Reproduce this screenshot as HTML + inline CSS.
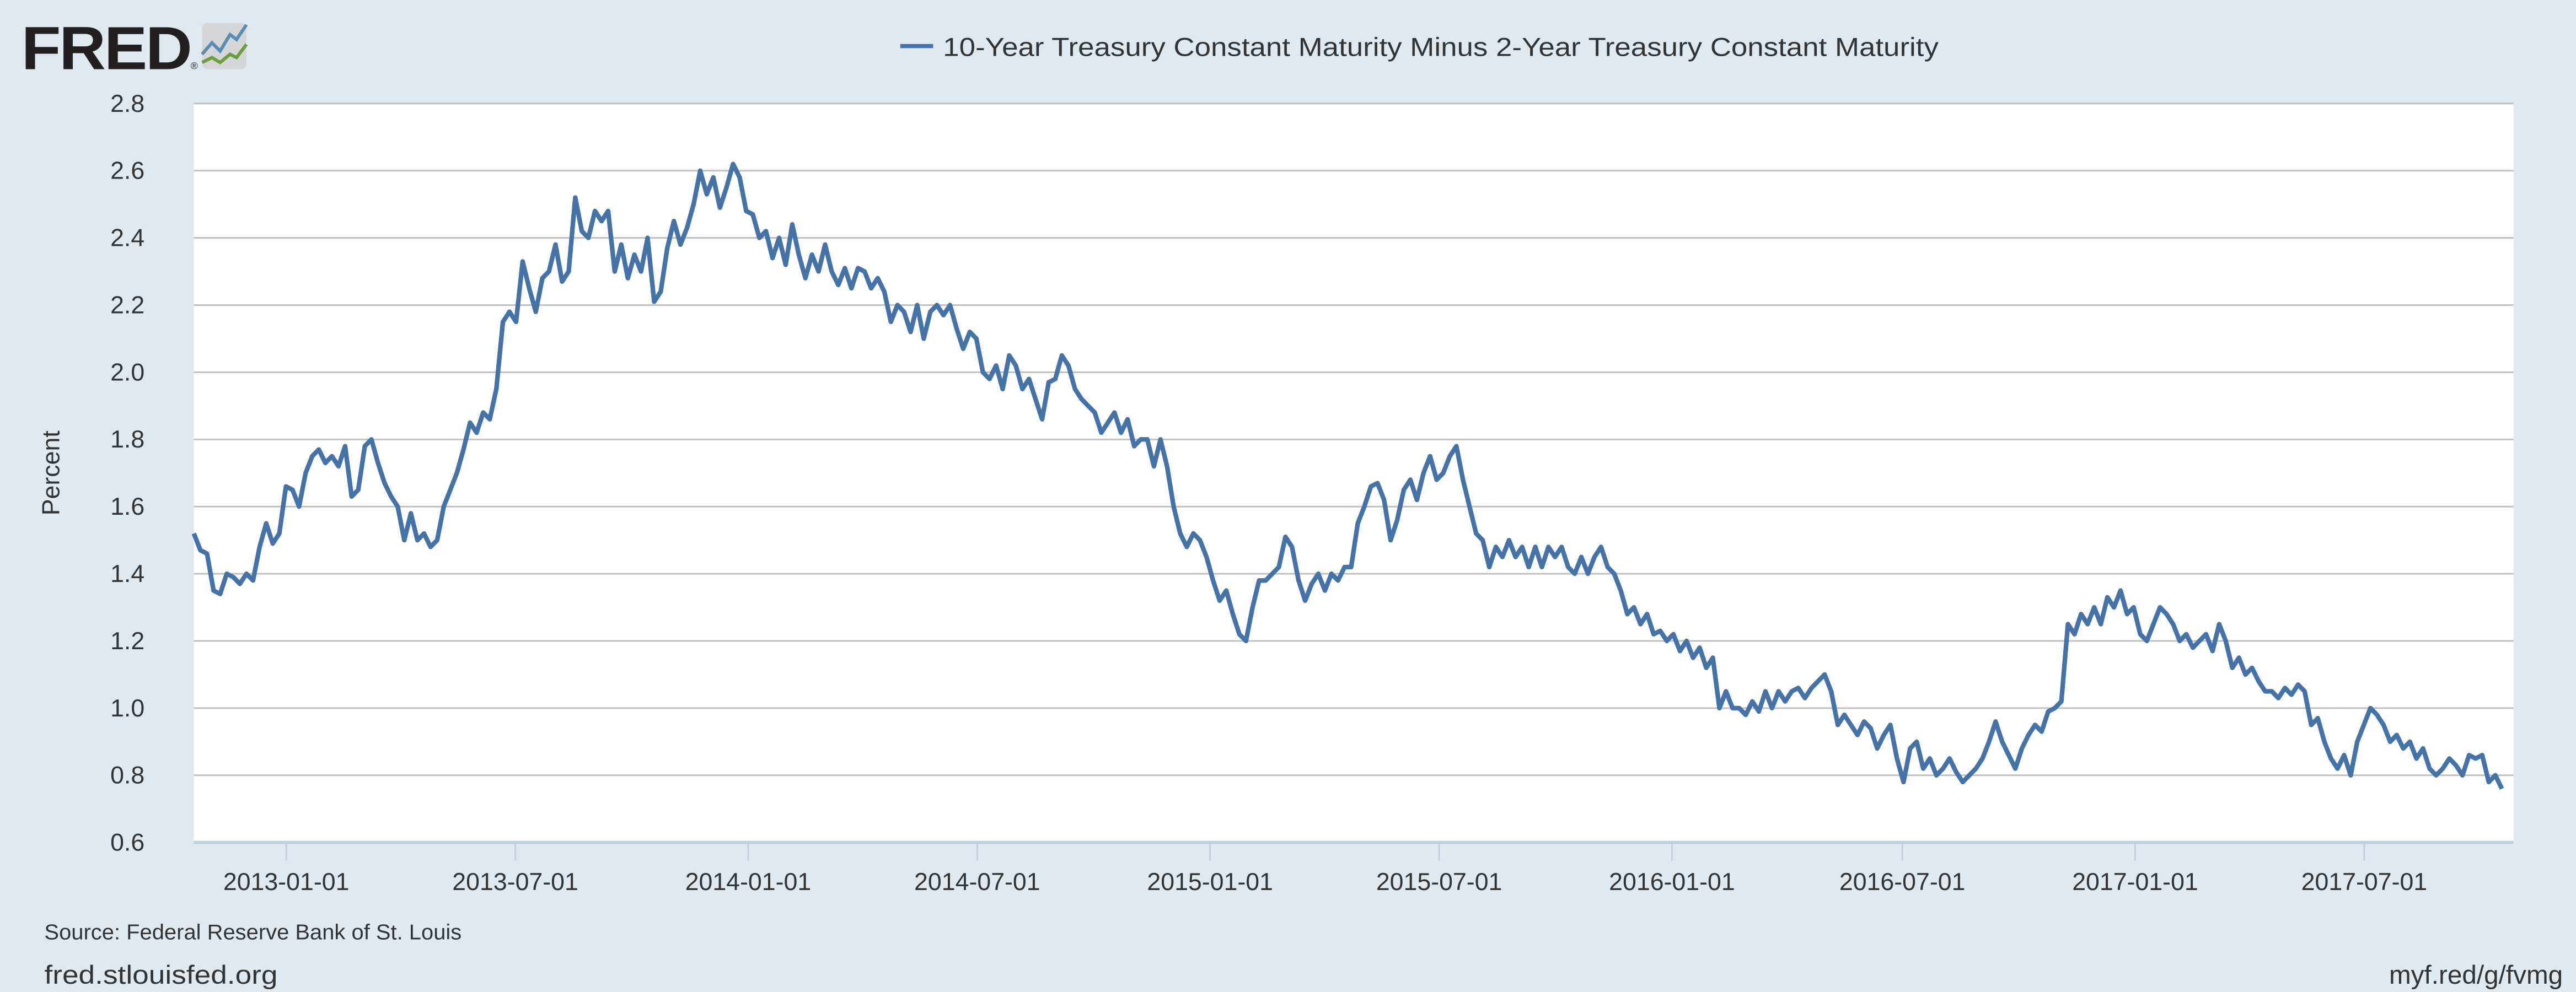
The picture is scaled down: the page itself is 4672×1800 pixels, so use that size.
<!DOCTYPE html>
<html><head><meta charset="utf-8"><style>
html,body{margin:0;padding:0;background:#e1e9f0;}
svg{display:block;}
text{font-family:"Liberation Sans",sans-serif;fill:#333;}
</style></head><body>
<svg id="c" width="4672" height="1800" viewBox="0 0 1568 604" xmlns="http://www.w3.org/2000/svg">
<rect x="0" y="0" width="1568" height="604" fill="#e1e9f0"/>
<g>
<text x="13" y="42" style="font-size:37px;font-weight:bold;fill:#231f20;letter-spacing:-1px" textLength="103" lengthAdjust="spacingAndGlyphs">FRED</text>
<text x="116" y="42" style="font-size:6px;fill:#231f20">®</text>
<rect x="123" y="14" width="27" height="28" rx="3" fill="#d4d6d8"/>
<polyline points="123,33 129,26 134,31 140,21 144,24 150,15" fill="none" stroke="#5b8db3" stroke-width="2"/>
<polyline points="123,38 129,35 134,38 140,33 144,35 150,27" fill="none" stroke="#6b9e3e" stroke-width="2"/>
</g>
<g>
<line x1="548" y1="28" x2="568" y2="28" stroke="#4572a7" stroke-width="2.5"/>
<text x="574" y="34" style="font-size:16px;fill:#333" textLength="606" lengthAdjust="spacingAndGlyphs">10-Year Treasury Constant Maturity Minus 2-Year Treasury Constant Maturity</text>
</g>
<rect x="118" y="63" width="1412" height="450" fill="#fff"/>
<g id="grid"></g>
<g id="yt"></g>
<g id="xt"></g>
<path id="ln" fill="none" stroke="#4572a7" stroke-width="2.8" stroke-linejoin="round"/>
<text transform="translate(36,288) rotate(-90)" text-anchor="middle" style="font-size:15px">Percent</text>
<text x="27" y="572" style="font-size:13px" textLength="254" lengthAdjust="spacingAndGlyphs">Source: Federal Reserve Bank of St. Louis</text>
<text x="27" y="599" style="font-size:16px" textLength="142" lengthAdjust="spacingAndGlyphs">fred.stlouisfed.org</text>
<text x="1560" y="599" text-anchor="end" style="font-size:16px">myf.red/g/fvmg</text>
</svg>
<script>
const startDate = '2012-10-20';
const stepDays = 5.196;
const values = [1.52,1.47,1.46,1.35,1.34,1.40,1.39,1.37,1.40,1.38,1.48,1.55,1.49,1.52,1.66,1.65,1.60,1.70,1.75,1.77,1.73,1.75,1.72,1.78,1.63,1.65,1.78,1.80,1.73,1.67,1.63,1.60,1.50,1.58,1.50,1.52,1.48,1.50,1.60,1.65,1.70,1.77,1.85,1.82,1.88,1.86,1.95,2.15,2.18,2.15,
2.33,2.25,2.18,2.28,2.30,2.38,2.27,2.30,2.52,2.42,2.40,2.48,2.45,2.48,2.30,2.38,2.28,2.35,2.30,2.40,2.21,2.24,2.37,2.45,2.38,2.43,2.50,2.60,2.53,2.58,2.49,2.55,2.62,2.58,2.48,2.47,2.40,2.42,2.34,2.40,2.32,2.44,2.35,2.28,2.35,2.30,2.38,2.30,2.26,2.31,2.25,2.31,2.30,2.25,2.28,2.24,2.15,2.20,2.18,2.12,2.20,2.10,2.18,2.20,2.17,2.20,2.13,2.07,2.12,2.10,2.00,1.98,2.02,1.95,2.05,2.02,1.95,1.98,1.92,1.86,1.97,1.98,2.05,2.02,1.95,1.92,1.90,1.88,1.82,1.85,1.88,1.82,1.86,1.78,1.80,1.80,1.72,1.80,1.72,1.60,1.52,1.48,1.52,1.50,1.45,1.38,1.32,1.35,1.28,1.22,1.20,1.30,1.38,1.38,1.40,1.42,1.51,1.48,1.38,1.32,1.37,1.40,1.35,1.40,1.38,1.42,1.42,1.55,1.60,1.66,1.67,1.62,1.50,1.56,1.65,1.68,1.62,1.70,1.75,1.68,1.70,1.75,1.78,1.68,1.60,1.52,1.50,1.42,1.48,1.45,1.50,1.45,1.48,1.42,1.48,1.42,1.48,1.45,1.48,1.42,1.40,1.45,1.40,1.45,1.48,1.42,1.40,1.35,1.28,1.30,1.25,1.28,1.22,1.23,1.20,1.22,1.17,1.20,1.15,1.18,1.12,1.15,1.00,1.05,1.00,1.00,0.98,1.02,0.99,1.05,1.00,1.05,1.02,1.05,1.06,1.03,1.06,1.08,1.10,1.05,0.95,0.98,0.95,0.92,0.96,0.94,0.88,0.92,0.95,0.85,0.78,0.88,0.90,0.82,0.85,0.80,0.82,0.85,0.81,0.78,0.80,0.82,0.85,0.90,0.96,0.90,0.86,0.82,0.88,0.92,0.95,0.93,0.99,1.00,1.02,1.25,1.22,1.28,1.25,1.30,1.25,1.33,1.30,1.35,1.28,1.30,1.22,1.20,1.25,1.30,1.28,1.25,1.20,1.22,1.18,1.20,1.22,1.17,1.25,1.20,1.12,1.15,1.10,1.12,1.08,1.05,1.05,1.03,1.06,1.04,1.07,1.05,0.95,0.97,0.90,0.85,0.82,0.86,0.80,0.90,0.95,1.00,0.98,0.95,0.90,0.92,0.88,0.90,0.85,0.88,0.82,0.80,0.82,0.85,0.83,0.80,0.86,0.85,0.86,0.78,0.80,0.76];
const yTicks = [0.6,0.8,1.0,1.2,1.4,1.6,1.8,2.0,2.2,2.4,2.6,2.8];
const yTickLabels = ['0.6','0.8','1.0','1.2','1.4','1.6','1.8','2.0','2.2','2.4','2.6','2.8'];
const xTicks = ['2013-01-01','2013-07-01','2014-01-01','2014-07-01','2015-01-01','2015-07-01','2016-01-01','2016-07-01','2017-01-01','2017-07-01'];
const xDomain = ['2012-10-20','2017-10-27'];

const NS='http://www.w3.org/2000/svg';
const L=118,R=1530,T=63,B=513;
const t0=Date.parse(xDomain[0]), t1=Date.parse(xDomain[1]);
function xs(ms){return L+(ms-t0)/(t1-t0)*(R-L);}
function ys(v){return B-(v-0.6)/(2.8-0.6)*(B-T);}
const grid=document.getElementById('grid'), yt=document.getElementById('yt'), xt=document.getElementById('xt');
yTicks.forEach((v,i)=>{
  if(i>0){const g=document.createElementNS(NS,'line');
  
  
  g.setAttribute('x1',L);g.setAttribute('x2',R);g.setAttribute('y1',ys(v));g.setAttribute('y2',ys(v));
  g.setAttribute('stroke','#c0c0c0');g.setAttribute('stroke-width','1');grid.appendChild(g);}
  const t=document.createElementNS(NS,'text');
  
  
  t.setAttribute('x',88);t.setAttribute('y',ys(v)+5);t.setAttribute('text-anchor','end');
  t.setAttribute('style','font-size:15px');t.textContent=yTickLabels[i];yt.appendChild(t);
});
const ax=document.createElementNS(NS,'line');


ax.setAttribute('x1',L);ax.setAttribute('x2',R);ax.setAttribute('y1',B);ax.setAttribute('y2',B);
ax.setAttribute('stroke','#c0d0e0');ax.setAttribute('stroke-width','2');xt.appendChild(ax);
xTicks.forEach(d=>{
  const x=xs(Date.parse(d));
  const k=document.createElementNS(NS,'line');
  
  
  k.setAttribute('x1',x);k.setAttribute('x2',x);k.setAttribute('y1',B);k.setAttribute('y2',B+11);
  k.setAttribute('stroke','#c0d0e0');k.setAttribute('stroke-width','1');xt.appendChild(k);
  const t=document.createElementNS(NS,'text');
  
  
  t.setAttribute('x',x);t.setAttribute('y',B+29);t.setAttribute('text-anchor','middle');
  t.setAttribute('style','font-size:15px');t.textContent=d;xt.appendChild(t);
});
const s0=Date.parse(startDate);
let d='';
values.forEach((v,i)=>{const x=xs(s0+i*stepDays*86400000);d+=(i?'L':'M')+x.toFixed(2)+','+ys(v).toFixed(2);});
document.getElementById('ln').setAttribute('d',d);
</script>
</body></html>
